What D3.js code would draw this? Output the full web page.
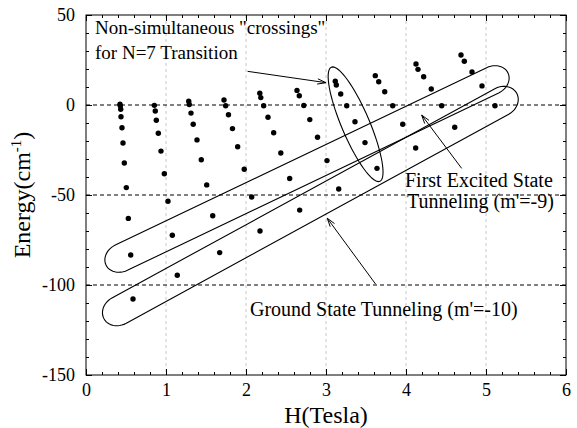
<!DOCTYPE html>
<html>
<head>
<meta charset="utf-8">
<script src="https://cdn.jsdelivr.net/npm/d3@7"></script>
<style>
  body { margin: 0; background: #fff; }
  text { font-family: "Liberation Serif", "Times New Roman", serif; fill: #000; }
</style>
</head>
<body>
<svg id="chart"></svg>
<script>
// axis values
var xTicks = [0, 1, 2, 3, 4, 5, 6];
var yTicks = [50, 0, -50, -100, -150];
var gridX = [1, 2, 3, 4, 5];
var refLines = [0, -50, -100];

// level crossing fields (Tesla), one column per resonance
var crossH = [
  [0.425, 0.429, 0.434, 0.4375, 0.45, 0.4625, 0.479, 0.504, 0.529, 0.559, 0.5875],
  [0.854, 0.866, 0.879, 0.904, 0.9375, 0.979, 1.025, 1.079, 1.141],
  [1.284, 1.291, 1.3125, 1.34, 1.3875, 1.441, 1.509, 1.584, 1.671],
  [1.725, 1.746, 1.781, 1.831, 1.896, 1.978, 2.071, 2.175],
  [2.1725, 2.185, 2.221, 2.275, 2.346, 2.435, 2.546, 2.671],
  [2.6375, 2.666, 2.7225, 2.7975, 2.894, 3.0125, 3.159],
  [3.116, 3.129, 3.184, 3.259, 3.3625, 3.4875, 3.6375],
  [3.616, 3.659, 3.734, 3.834, 3.959, 4.121],
  [4.125, 4.15, 4.221, 4.316, 4.446, 4.609],
  [4.6875, 4.729, 4.825, 4.95, 5.1125]
];
// energies at those crossings (cm-1)
var crossE = [
  [0.4, -0.4, -2.4, -6.5, -12.6, -21.1, -32.2, -45.9, -63, -83.3, -107.8],
  [-0.2, -3.3, -8.5, -15.7, -25.6, -38.2, -53.5, -72.4, -94.6],
  [2.1, 0.3, -4.5, -10.7, -19.4, -30.4, -44.4, -61.5, -82],
  [2.8, -0.4, -5.4, -13.1, -23.2, -35.7, -51.1, -70],
  [6.5, 4.1, -0.4, -6.8, -15.4, -26.7, -40.8, -58.4],
  [8.1, 5.1, -0.3, -8.1, -17.9, -30.9, -46.7],
  [13.2, 11.1, 6.1, -0.4, -9.3, -20.9, -35.2],
  [16.3, 12.9, 7.4, -0.4, -10.7, -23.9],
  [22.8, 19.8, 15.7, 8.9, -0.4, -12.4],
  [27.8, 24.3, 18.3, 10.6, -0.4]
];

var width = 577;
var height = 428;
var margin = { top: 15, right: 11, bottom: 53, left: 86 };
var plotW = width - margin.left - margin.right;
var plotH = height - margin.top - margin.bottom;

var svg = d3.select("#chart")
    .attr("width", width)
    .attr("height", height);

var xScale = d3.scaleLinear().domain([0, 6]).range([margin.left, margin.left + plotW]);
var yScale = d3.scaleLinear().domain([-150, 50]).range([margin.top + plotH, margin.top]);

// vertical grid
svg.selectAll(".gridx")
    .data(gridX)
    .enter()
    .append("line")
    .attr("x1", function(d) { return xScale(d); })
    .attr("x2", function(d) { return xScale(d); })
    .attr("y1", yScale(50))
    .attr("y2", yScale(-150))
    .attr("stroke", "#c8c8c8")
    .attr("stroke-width", 1)
    .attr("stroke-dasharray", "3,3");

// dashed reference lines
svg.selectAll(".ref")
    .data(refLines)
    .enter()
    .append("line")
    .attr("x1", xScale(0))
    .attr("x2", xScale(6))
    .attr("y1", function(d) { return yScale(d); })
    .attr("y2", function(d) { return yScale(d); })
    .attr("stroke", "#000")
    .attr("stroke-width", 1)
    .attr("stroke-dasharray", "4,3");

// axes, ticks pointing inward on every side
function styleAxis(g) {
    g.select(".domain").remove();
    g.selectAll("line").attr("stroke", "#000");
    g.selectAll("text")
        .style("font-family", "'Liberation Serif', 'Times New Roman', serif")
        .style("font-size", "18px")
        .attr("fill", "#000");
}
var plainNum = function(d) { return String(d); };

var minorX = d3.range(0, 6.001, 0.2);
var minorY = d3.range(-150, 50.001, 10);

svg.append("g")
    .attr("transform", "translate(0," + yScale(-150) + ")")
    .call(d3.axisBottom(xScale).tickValues(minorX).tickSize(-3).tickFormat(""))
    .call(styleAxis);
svg.append("g")
    .attr("transform", "translate(0," + yScale(-150) + ")")
    .call(d3.axisBottom(xScale).tickValues(xTicks).tickSize(-6).tickPadding(8).tickFormat(plainNum))
    .call(styleAxis);
svg.append("g")
    .attr("transform", "translate(0," + yScale(50) + ")")
    .call(d3.axisTop(xScale).tickValues(minorX).tickSize(-3).tickFormat(""))
    .call(styleAxis);
svg.append("g")
    .attr("transform", "translate(0," + yScale(50) + ")")
    .call(d3.axisTop(xScale).tickValues(xTicks).tickSize(-6).tickFormat(""))
    .call(styleAxis);

svg.append("g")
    .attr("transform", "translate(" + xScale(0) + ",0)")
    .call(d3.axisLeft(yScale).tickValues(minorY).tickSize(-3).tickFormat(""))
    .call(styleAxis);
svg.append("g")
    .attr("transform", "translate(" + xScale(0) + ",0)")
    .call(d3.axisLeft(yScale).tickValues(yTicks).tickSize(-6).tickPadding(11).tickFormat(plainNum))
    .call(styleAxis);
svg.append("g")
    .attr("transform", "translate(" + xScale(6) + ",0)")
    .call(d3.axisRight(yScale).tickValues(minorY).tickSize(-3).tickFormat(""))
    .call(styleAxis);
svg.append("g")
    .attr("transform", "translate(" + xScale(6) + ",0)")
    .call(d3.axisRight(yScale).tickValues(yTicks).tickSize(-6).tickFormat(""))
    .call(styleAxis);

// frame
svg.append("rect")
    .attr("x", xScale(0))
    .attr("y", yScale(50))
    .attr("width", xScale(6) - xScale(0))
    .attr("height", yScale(-150) - yScale(50))
    .attr("fill", "none")
    .attr("stroke", "#000")
    .attr("stroke-width", 1);

// crossing points
var points = [];
crossH.forEach(function(col, i) {
    col.forEach(function(h, j) {
        points.push({ h: h, e: crossE[i][j] });
    });
});

svg.selectAll("circle.pt")
    .data(points)
    .enter()
    .append("circle")
    .attr("class", "pt")
    .attr("cx", function(d) { return xScale(d.h); })
    .attr("cy", function(d) { return yScale(d.e); })
    .attr("r", 2.7)
    .attr("fill", "#000");

// enclosing shapes (given in data units, drawn in pixels)
function capsule(a, b, hw, cap) {
    var p1 = [xScale(a[0]), yScale(a[1])];
    var p2 = [xScale(b[0]), yScale(b[1])];
    var dx = p2[0] - p1[0], dy = p2[1] - p1[1];
    var L = Math.sqrt(dx * dx + dy * dy);
    var ux = dx / L, uy = dy / L, vx = -uy, vy = ux;
    var pts = [];
    function add(u, v) { pts.push([p1[0] + u * ux + v * vx, p1[1] + u * uy + v * vy]); }
    for (var i = 0; i <= 24; i++) {
        var t = -Math.PI / 2 + Math.PI * i / 24;
        add(L - cap + cap * Math.cos(t), hw * Math.sin(t));
    }
    for (var k = 0; k <= 24; k++) {
        var s = Math.PI / 2 + Math.PI * k / 24;
        add(cap + cap * Math.cos(s), hw * Math.sin(s));
    }
    return pts;
}

function ellipse(c, ra, rb, angleDeg) {
    var cx = xScale(c[0]), cy = yScale(c[1]);
    var ang = angleDeg * Math.PI / 180;
    var pts = [];
    for (var i = 0; i < 72; i++) {
        var t = 2 * Math.PI * i / 72;
        var u = ra * Math.cos(t), v = rb * Math.sin(t);
        pts.push([cx + u * Math.cos(ang) - v * Math.sin(ang), cy + u * Math.sin(ang) + v * Math.cos(ang)]);
    }
    return pts;
}

var loopLine = d3.line().curve(d3.curveLinearClosed);

// first excited state (m'=-9)
svg.append("path")
    .attr("d", loopLine(capsule([0.25, -88.9], [5.275, 17.8], 14, 17)))
    .attr("fill", "none").attr("stroke", "#000").attr("stroke-width", 1.1);
// ground state (m'=-10)
svg.append("path")
    .attr("d", loopLine(capsule([0.225, -118.8], [5.384, 6.5], 14.5, 17)))
    .attr("fill", "none").attr("stroke", "#000").attr("stroke-width", 1.1);
// N=7 transition
svg.append("path")
    .attr("d", loopLine(ellipse([3.37, -10.7], 62, 14, 67)))
    .attr("fill", "none").attr("stroke", "#000").attr("stroke-width", 1.1);

// arrows
function arrow(from, to) {
    var x1 = xScale(from[0]), y1 = yScale(from[1]);
    var x2 = xScale(to[0]), y2 = yScale(to[1]);
    var ang = Math.atan2(y2 - y1, x2 - x1);
    var len = 9, spread = 0.3;
    svg.append("line")
        .attr("x1", x1).attr("y1", y1).attr("x2", x2).attr("y2", y2)
        .attr("stroke", "#000").attr("stroke-width", 1);
    svg.append("path")
        .attr("d", "M" + (x2 - len * Math.cos(ang - spread)) + "," + (y2 - len * Math.sin(ang - spread)) +
                   "L" + x2 + "," + y2 +
                   "L" + (x2 - len * Math.cos(ang + spread)) + "," + (y2 - len * Math.sin(ang + spread)))
        .attr("fill", "none").attr("stroke", "#000").attr("stroke-width", 1);
}

arrow([2.02, 18.7], [3.0, 12.4]);
arrow([4.696, -35.2], [4.196, -5.6]);
arrow([3.62, -99.5], [3.016, -62.9]);

// annotation texts
function note(x, y, str, size) {
    svg.append("text")
        .attr("x", x)
        .attr("y", y)
        .style("font-size", size + "px")
        .text(str);
}
note(95, 34, "Non-simultaneous \"crossings\"", 19);
note(95, 58.5, "for N=7 Transition", 19);
note(405, 187, "First Excited State", 20);
note(407, 208, "Tunneling (m'=-9)", 20);
note(250, 316, "Ground State Tunneling (m'=-10)", 20);

// axis titles
svg.append("text")
    .attr("x", (xScale(0) + xScale(6)) / 2)
    .attr("y", 423)
    .attr("text-anchor", "middle")
    .style("font-size", "24px")
    .text("H(Tesla)");

var ylab = svg.append("text")
    .attr("transform", "translate(30," + yScale(-50) + ") rotate(-90)")
    .attr("text-anchor", "middle")
    .style("font-size", "24px");
ylab.append("tspan").text("Energy(cm");
ylab.append("tspan").attr("dy", -9).style("font-size", "15px").text("-1");
ylab.append("tspan").attr("dy", 9).text(")");
</script>
</body>
</html>
